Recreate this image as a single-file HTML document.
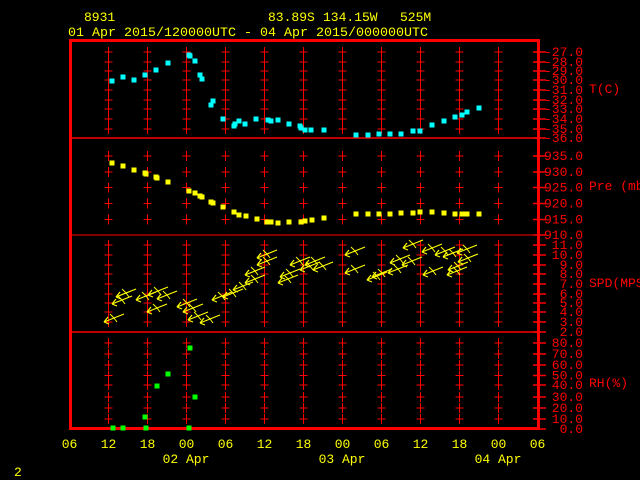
<!DOCTYPE html>
<html><head><meta charset="utf-8"><style>
html,body{margin:0;padding:0;background:#000;width:640px;height:480px;overflow:hidden}
svg{display:block}
text{font-family:"Liberation Mono","DejaVu Sans Mono",monospace;font-size:13px}
</style></head><body>
<svg id="s" width="640" height="480" xmlns="http://www.w3.org/2000/svg">
<rect width="640" height="480" fill="#000"/>
<g fill="#ffff00" font-size="13">
<text x="84" y="21">8931</text>
<text x="268" y="21">83.89S</text>
<text x="323" y="21">134.15W</text>
<text x="400" y="21">525M</text>
<text x="68" y="36" textLength="360" lengthAdjust="spacingAndGlyphs">01 Apr 2015/120000UTC - 04 Apr 2015/000000UTC</text>
<text x="14" y="476" font-size="12">2</text>
</g>
</svg>
<script>
const S=document.getElementById('s'),NS='http://www.w3.org/2000/svg';
function el(t,a,txt){const e=document.createElementNS(NS,t);for(const k in a)e.setAttribute(k,a[k]);if(txt!=null)e.textContent=txt;S.appendChild(e);return e;}
function ln(x1,y1,x2,y2,c,w){el('line',{x1,y1,x2,y2,stroke:c||'#f00','stroke-width':w||1});}
const R='#ff0000';
const T=[[-27,52],[-28,62],[-29,71],[-30,80],[-31,90],[-32,100],[-33,109],[-34,119],[-35,129],[-36,138]];
const P=[[935,156],[930,172],[925,187.5],[920,203.5],[915,219.5],[910,235]];
const W=[[11,245],[10,255],[9,265],[8,274],[7,284],[6,294],[5,303],[4,312],[3,322],[2,332]];
const H=[[80,343],[70,354],[60,365],[50,375.5],[40,385],[30,397],[20,408],[10,419],[0,429]];
const gx=[108.5,147.5,186.5,225.5,264.5,303.5,342.5,381.5,420.5,459.5,498.5];
const gridT=[52,62,71,80,90,100,109,119,129], gridP=[156,172,187.5,203.5,219.5], gridW=[245,255,265,274,284,294,303,312,322], gridH=[343,354,365,375.5,385,397,408,419];
for(const x of gx){for(const y of [...gridT,...gridP,...gridW,...gridH]){ln(x,y-5,x,y+5,R,1);ln(x-4,y,x+4,y,R,1);}}
ln(70,138,539,138,R,1.5);ln(70,235,539,235,R,1);ln(70,332,539,332,R,1.5);
el('rect',{x:70.5,y:40.5,width:468,height:388,fill:'none',stroke:R,'stroke-width':3});
function axis(arr,label,ly){for(const [v,y] of arr){ln(533,y,546,y,R,1.5);el('text',{x:583,y:y+4,'text-anchor':'end',fill:R,'font-size':'10'},v.toFixed(1));}
 el('text',{x:589,y:ly,fill:R,'font-size':'10'},label);}
axis(T,'T(C)',93);
axis(P,'Pre (mb)',190);
axis(W,'SPD(MPS)',287);
axis(H,'RH(%)',387);
const xl=['06','12','18','00','06','12','18','00','06','12','18','00','06'];
xl.forEach((t,i)=>el('text',{x:69.5+39*i,y:448,'text-anchor':'middle',fill:'#ff0','font-size':'13'},t));
[['02 Apr',186],['03 Apr',342],['04 Apr',498]].forEach(a=>el('text',{x:a[1],y:463,'text-anchor':'middle',fill:'#ff0','font-size':'13'},a[0]));
function pts(arr,c){for(const [x,y] of arr)el('rect',{x:x-2.5,y:y-2.5,width:5,height:5,fill:c});}
pts([[112,81],[123,77],[134,80],[145,75],[156,70],[168,63],[189,55],[190,56],[195,61],[200,75],[202,79],[213,101],[211,105],[223,119],[234,126],[235,124],[239,121],[245,124],[256,119],[268,120],[271,121],[278,120],[289,124],[300,126],[301,128],[305,130],[311,130],[324,130],[356,135],[368,135],[379,134],[390,134],[401,134],[413,131],[420,131],[432,125],[444,121],[455,117],[462,115],[467,112],[479,108]],'#00ffff');
pts([[112,163],[123,166],[134,170],[145,173],[146,174],[156,177],[157,178],[168,182],[189,191],[195,193],[200,196],[202,197],[211,202],[213,203],[223,207],[234,212],[239,215],[246,216],[257,219],[267,222],[271,222],[278,223],[289,222],[301,222],[305,221],[312,220],[324,218],[356,214],[368,214],[379,214],[390,214],[401,213],[413,213],[420,212],[432,212],[444,213],[455,214],[462,214],[467,214],[479,214]],'#ffff00');
pts([[190,348],[168,374],[157,386],[195,397],[145,417],[113,428],[123,428],[146,428],[189,428]],'#00ff00');
const wind=[[104,322],[112,304],[116,297],[136,300],[147,312],[148,295],[157,299],[177,307],[183,312],[188,320],[200,323],[212,300],[223,297],[233,290],[245,283],[245,275],[257,258],[257,265],[278,283],[280,277],[290,265],[300,270],[305,265],[313,270],[345,255],[345,273],[367,280],[372,277],[388,273],[390,263],[402,265],[403,248],[422,252],[423,275],[435,255],[443,257],[447,275],[448,270],[457,253],[458,262]];
for(const [x,y] of wind){const g='#ffff00';ln(x,y,x+20,y-8,g,1.2);ln(x,y,x+4,y-5,g,1.2);ln(x,y,x+5,y+2,g,1.2);ln(x+10,y-4,x+6,y-8,g,1);ln(x+10,y-4,x+13,y,g,1);}
</script>
</body></html>
